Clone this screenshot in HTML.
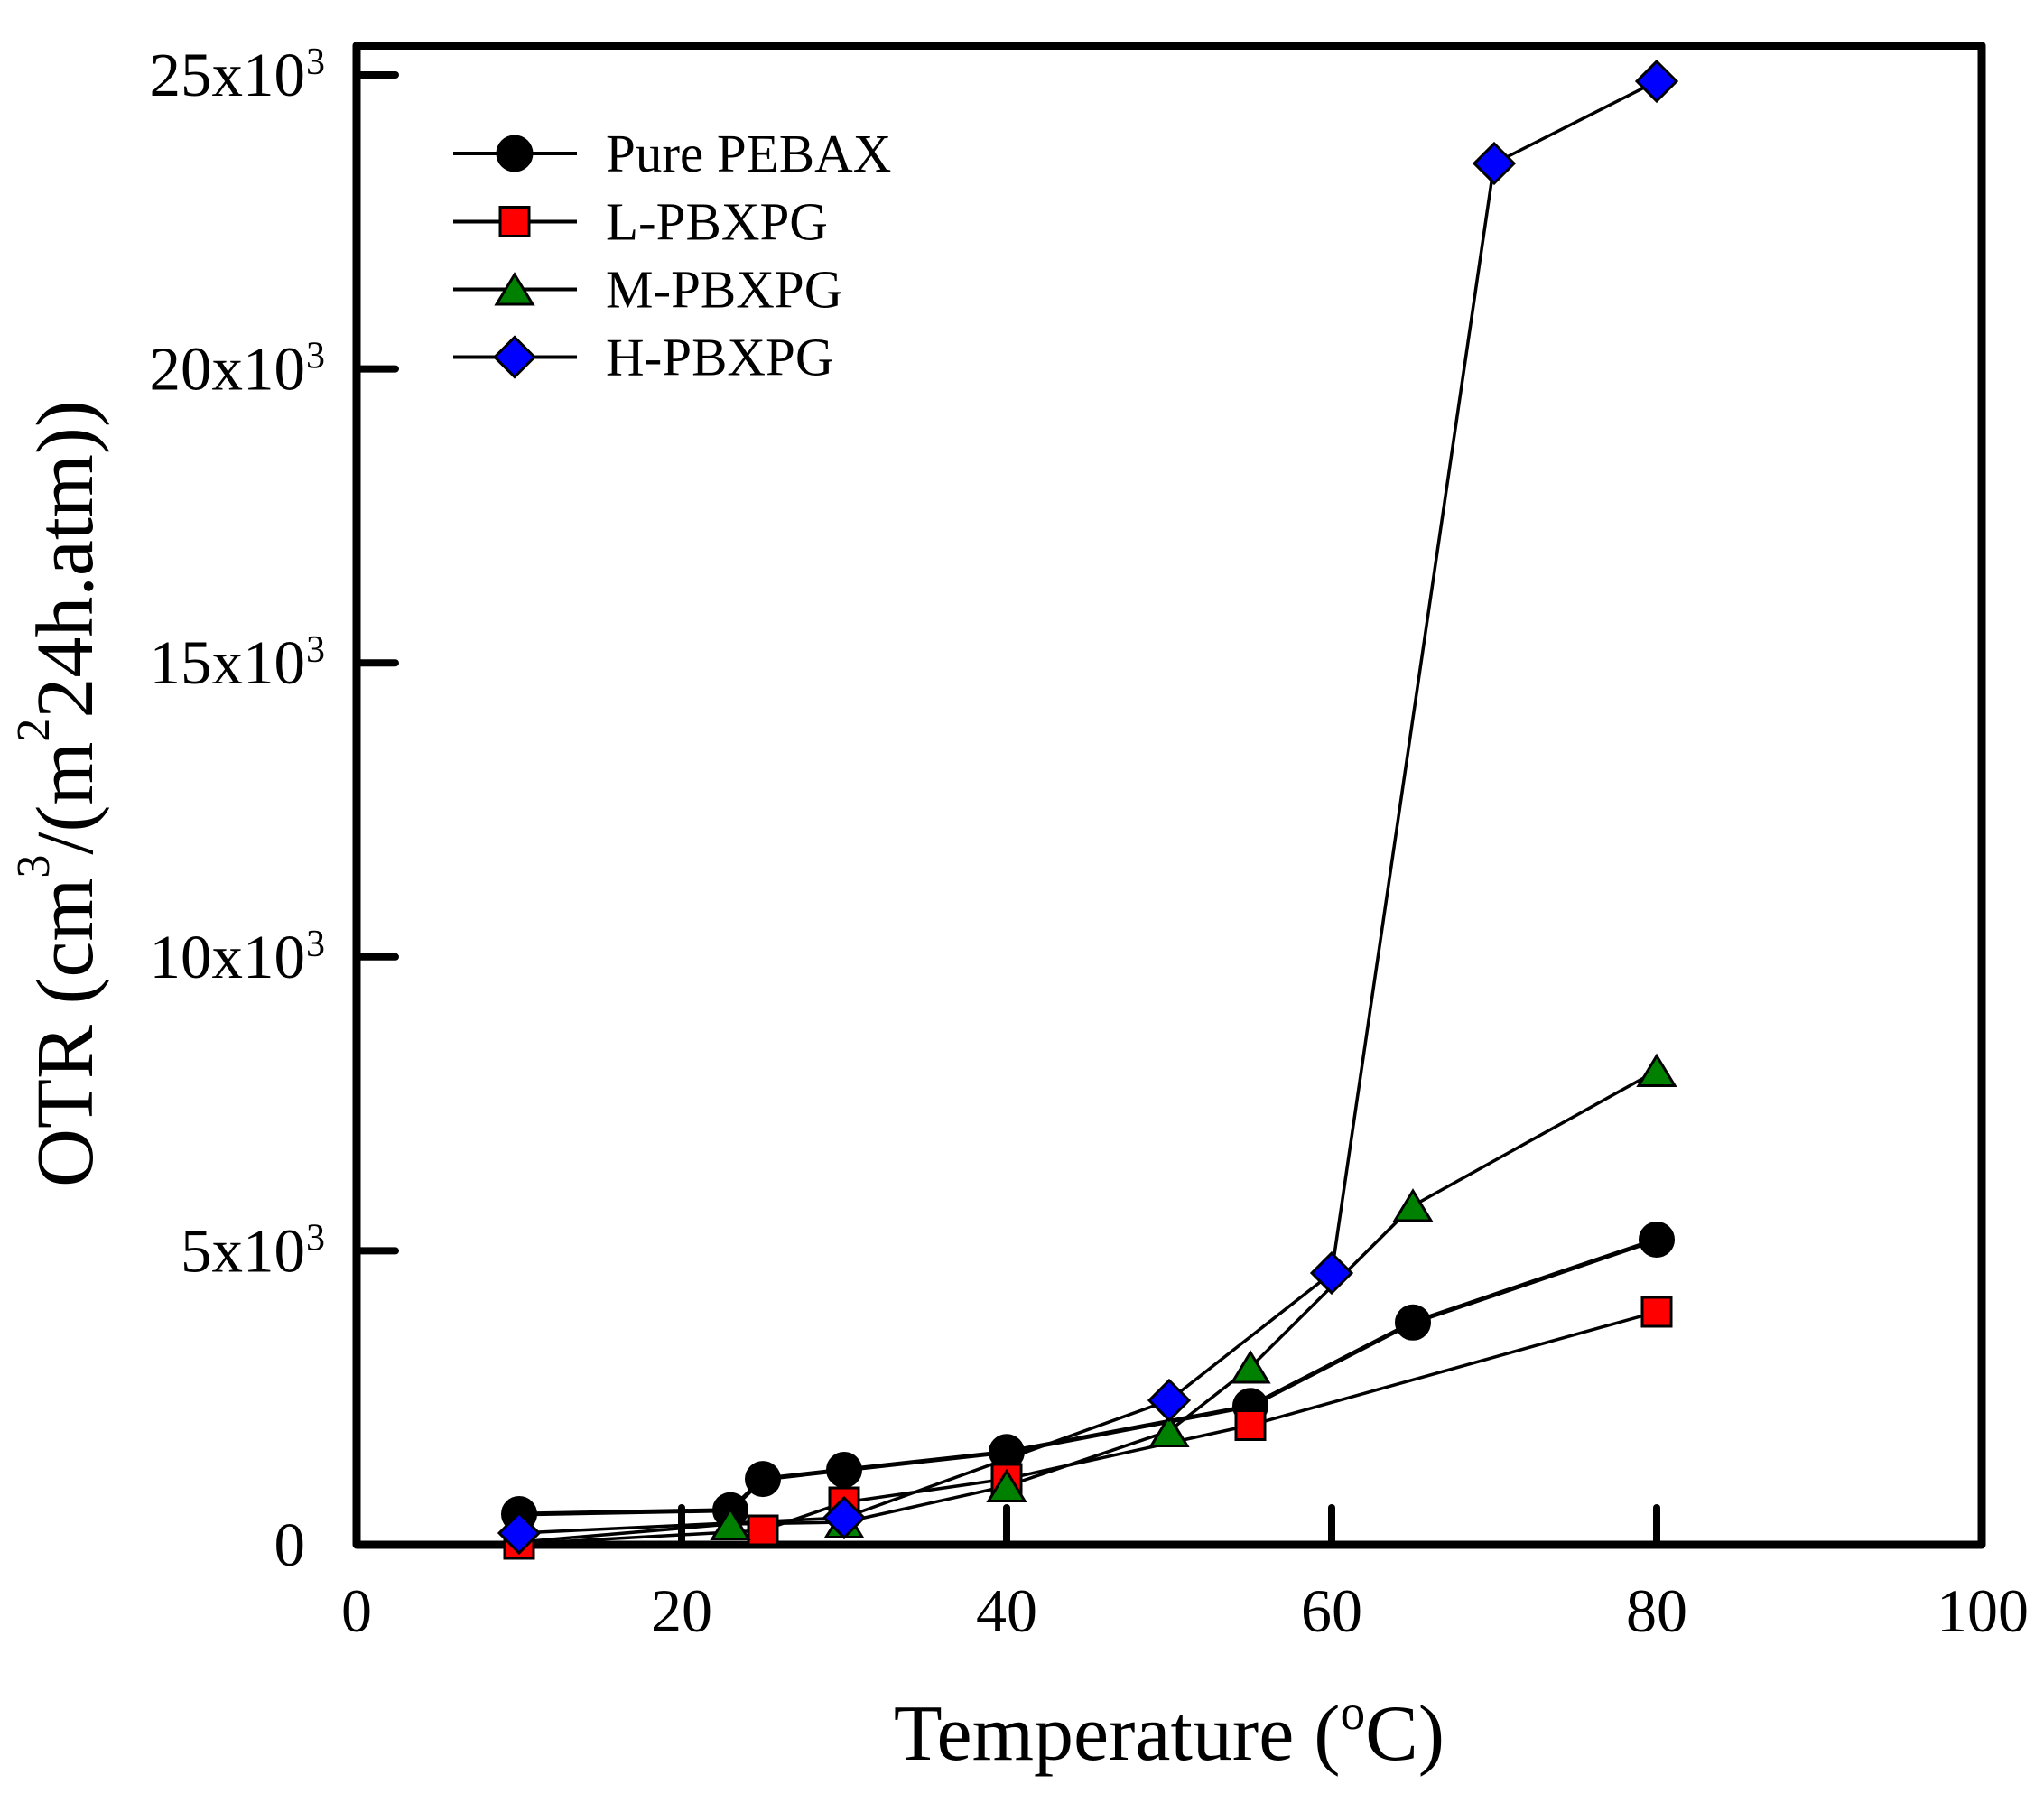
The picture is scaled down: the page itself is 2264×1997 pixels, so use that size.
<!DOCTYPE html>
<html>
<head>
<meta charset="utf-8">
<style>
html,body{margin:0;padding:0;background:#fff;}
svg{display:block;}
text{font-family:"Liberation Serif","Times New Roman",serif;fill:#000;}
</style>
</head>
<body>
<svg width="2264" height="1997" viewBox="0 0 2264 1997" xmlns="http://www.w3.org/2000/svg">
<rect x="0" y="0" width="2264" height="1997" fill="#fff"/>

<!-- ticks -->
<g stroke="#000" stroke-width="8" stroke-linecap="round">
  <line x1="755" y1="1711" x2="755" y2="1670"/>
  <line x1="1115" y1="1711" x2="1115" y2="1670"/>
  <line x1="1475" y1="1711" x2="1475" y2="1670"/>
  <line x1="1835" y1="1711" x2="1835" y2="1670"/>
  <line x1="395" y1="1385.4" x2="438" y2="1385.4"/>
  <line x1="395" y1="1059.8" x2="438" y2="1059.8"/>
  <line x1="395" y1="734.2" x2="438" y2="734.2"/>
  <line x1="395" y1="408.6" x2="438" y2="408.6"/>
  <line x1="395" y1="83" x2="438" y2="83"/>
</g>

<!-- frame -->
<rect x="395" y="50.5" width="1800" height="1660.5" fill="none" stroke="#000" stroke-width="9" stroke-linejoin="round"/>

<!-- series lines -->
<g fill="none" stroke="#000" stroke-linejoin="round">
  <polyline stroke-width="5" points="575,1677 809,1672.7 845,1638.1 935,1628 1115,1608.3 1385,1557.3 1565,1464.8 1835,1373"/>
  <polyline stroke-width="3.5" points="575,1710 845,1695 935,1664 1115,1638 1385,1578.5 1835,1453"/>
  <polyline stroke-width="3.5" points="575,1708 809,1688 935,1686 1115,1646 1295,1585 1385,1514.5 1565,1335.5 1835,1186"/>
  <polyline stroke-width="3.5" points="575,1698 935,1681 1295,1551 1475,1410 1655,181 1835,90"/>
</g>

<!-- Pure PEBAX circles -->
<g fill="#000" stroke="#000" stroke-width="2">
  <circle cx="575" cy="1677" r="19"/>
  <circle cx="809" cy="1672.7" r="19"/>
  <circle cx="845" cy="1638.1" r="19"/>
  <circle cx="935" cy="1628" r="19"/>
  <circle cx="1115" cy="1608.3" r="19"/>
  <circle cx="1385" cy="1557.3" r="19"/>
  <circle cx="1565" cy="1464.8" r="19"/>
  <circle cx="1835" cy="1373" r="19"/>
</g>

<!-- L-PBXPG squares -->
<g fill="#ff0000" stroke="#000" stroke-width="3">
  <rect x="559" y="1694" width="32" height="32"/>
  <rect x="829" y="1679" width="32" height="32"/>
  <rect x="919" y="1648" width="32" height="32"/>
  <rect x="1099" y="1622" width="32" height="32"/>
  <rect x="1369" y="1562.5" width="32" height="32"/>
  <rect x="1819" y="1437" width="32" height="32"/>
</g>

<!-- M-PBXPG triangles -->
<g fill="#008000" stroke="#000" stroke-width="3" stroke-linejoin="miter">
  <polygon points="809,1671.5 829,1704.5 789,1704.5"/>
  <polygon points="935,1669.5 955,1702.5 915,1702.5"/>
  <polygon points="1115,1629.5 1135,1662.5 1095,1662.5"/>
  <polygon points="1295,1568.5 1315,1601.5 1275,1601.5"/>
  <polygon points="1385,1498 1405,1531 1365,1531"/>
  <polygon points="1565,1319 1585,1352 1545,1352"/>
  <polygon points="1835,1169.5 1855,1202.5 1815,1202.5"/>
</g>

<!-- H-PBXPG diamonds -->
<g fill="#0000ff" stroke="#000" stroke-width="3">
  <polygon points="575,1676 597,1698 575,1720 553,1698"/>
  <polygon points="935,1659 957,1681 935,1703 913,1681"/>
  <polygon points="1295,1529 1317,1551 1295,1573 1273,1551"/>
  <polygon points="1475,1388 1497,1410 1475,1432 1453,1410"/>
  <polygon points="1655,159 1677,181 1655,203 1633,181"/>
  <polygon points="1835,68 1857,90 1835,112 1813,90"/>
</g>

<!-- legend -->
<g stroke="#000" stroke-width="4">
  <line x1="502" y1="170" x2="639" y2="170"/>
  <line x1="502" y1="245.5" x2="639" y2="245.5"/>
  <line x1="502" y1="320.5" x2="639" y2="320.5"/>
  <line x1="502" y1="395.5" x2="639" y2="395.5"/>
</g>
<circle cx="570" cy="170" r="19.5" fill="#000" stroke="#000" stroke-width="2"/>
<rect x="554" y="229.5" width="32" height="32" fill="#ff0000" stroke="#000" stroke-width="3"/>
<polygon points="570,304 590,337 550,337" fill="#008000" stroke="#000" stroke-width="3"/>
<polygon points="570,373.5 592,395.5 570,417.5 548,395.5" fill="#0000ff" stroke="#000" stroke-width="3"/>
<g font-size="59">
  <text x="671" y="190">Pure PEBAX</text>
  <text x="671" y="265.5">L-PBXPG</text>
  <text x="671" y="340.5">M-PBXPG</text>
  <text x="671" y="415.5">H-PBXPG</text>
</g>

<!-- y tick labels -->
<g font-size="69" text-anchor="end">
  <text x="338" y="1734">0</text>
  <text x="338" y="1408.4">5x10</text>
  <text x="338" y="1082.8">10x10</text>
  <text x="338" y="757.2">15x10</text>
  <text x="338" y="431.6">20x10</text>
  <text x="338" y="106">25x10</text>
</g>
<g font-size="42">
  <text x="339" y="1384.4">3</text>
  <text x="339" y="1058.8">3</text>
  <text x="339" y="733.2">3</text>
  <text x="339" y="407.6">3</text>
  <text x="339" y="82">3</text>
</g>

<!-- x tick labels -->
<g font-size="68" text-anchor="middle">
  <text x="395" y="1807">0</text>
  <text x="755" y="1807">20</text>
  <text x="1115" y="1807">40</text>
  <text x="1475" y="1807">60</text>
  <text x="1835" y="1807">80</text>
  <text x="2196" y="1807">100</text>
</g>

<!-- axis titles -->
<text x="1295" y="1949" font-size="88" text-anchor="middle">Temperature (<tspan font-size="55" dy="-34">o</tspan><tspan dy="34">C)</tspan></text>

<text transform="translate(102,1315) rotate(-90)" font-size="90" text-anchor="start">OTR (cm<tspan font-size="52" dy="-48">3</tspan><tspan dy="48">/(m</tspan><tspan font-size="52" dy="-48">2</tspan><tspan dy="48">24h.atm))</tspan></text>
</svg>
</body>
</html>
